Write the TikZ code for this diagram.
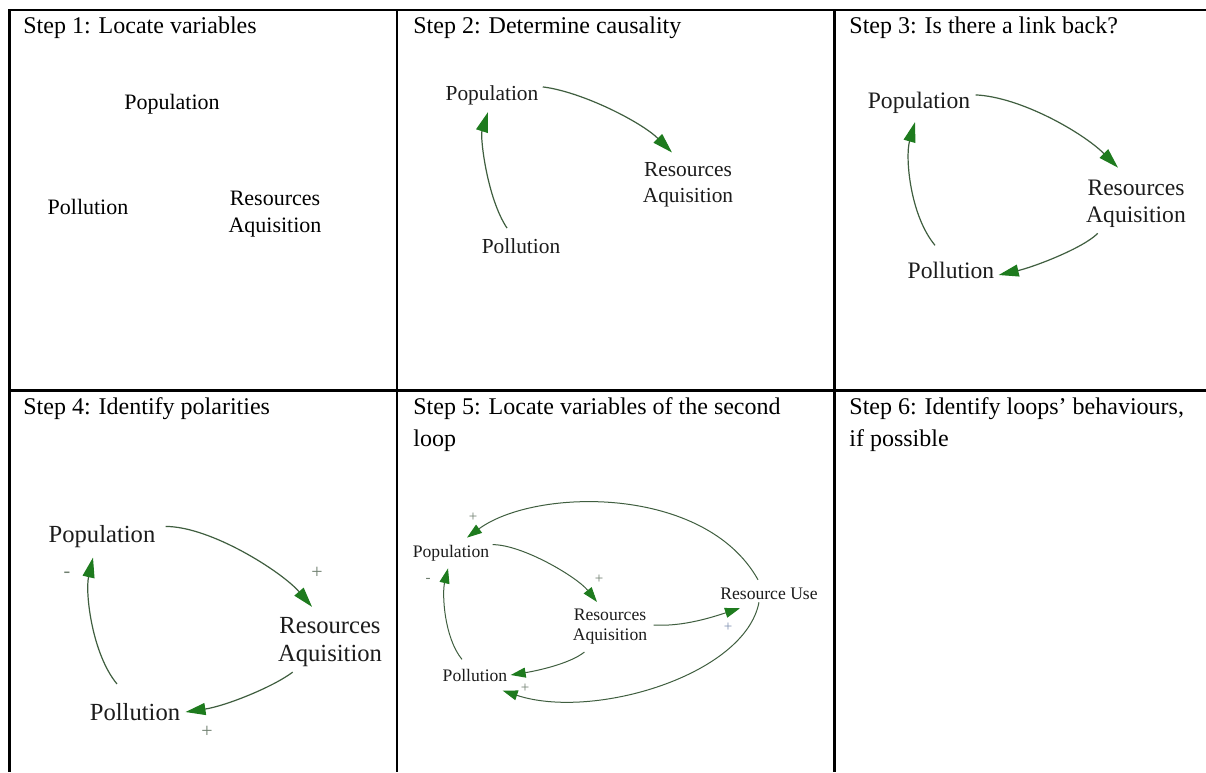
\documentclass[tikz,border=0pt]{standalone}
\usepackage{fontspec}
\setmainfont{Liberation Serif}
\usetikzlibrary{arrows.meta,calc}
\definecolor{linkline}{HTML}{3F5E3F}
\definecolor{linkhead}{HTML}{1E7B1E}
\definecolor{vartext}{HTML}{1C1C1C}
\definecolor{signgray}{HTML}{6F7F6F}
\definecolor{signblue}{HTML}{7F8FB0}
\begin{document}
\begin{tikzpicture}[x=0.5pt,y=-0.5pt,
  grid/.style={line width=1.3pt,black},
  header/.style={anchor=base west,inner sep=0pt,font=\fontsize{12}{16}\selectfont},
  var/.style={inner sep=0pt,align=center,text=vartext},
  fa/.style={font=\fontsize{11}{13.3}\selectfont},
  fb/.style={font=\fontsize{10.7}{12.8}\selectfont},
  fc/.style={font=\fontsize{11.8}{13.7}\selectfont},
  fd/.style={font=\fontsize{12.3}{14.1}\selectfont},
  fe/.style={font=\fontsize{8.8}{10}\selectfont},
  link/.style={draw=linkline,line width=0.6pt,-{Triangle[length=10pt,width=6pt,color=linkhead]}},
  smalllink/.style={draw=linkline,line width=0.5pt,-{Triangle[length=7.5pt,width=5pt,color=linkhead]}},
  sign/.style={inner sep=0pt,text=signgray,font=\fontsize{10}{10}\selectfont},
  smallsign/.style={sign,font=\fontsize{7.5}{8}\selectfont},
]
% page and table frame
\fill[white] (0,0) rectangle (1206,772);
\useasboundingbox (0,0) rectangle (1206,772);
\coordinate (tl) at (9.5,10);
\coordinate (tr) at (1206,10);
\coordinate (bl) at (9.5,772);
\coordinate (ml) at (9.5,390.5);
\coordinate (mr) at (1206,390.5);
\coordinate (c1t) at (397,10);
\coordinate (c1b) at (397,772);
\coordinate (c2t) at (834.5,10);
\coordinate (c2b) at (834.5,772);
\draw[grid] (tr) -- (tl) -- (bl);
\draw[grid] (ml) -- (mr);
\draw[grid] (c1t) -- (c1b);
\draw[grid] (c2t) -- (c2b);

% cell headings
\node[header] (h1) at (23,33) {Step 1: Locate variables};
\node[header] (h2) at (413,33) {Step 2: Determine causality};
\node[header] (h3) at (849,33) {Step 3: Is there a link back?};
\node[header] (h4) at (23,414) {Step 4: Identify polarities};
\node[header] (h5) at (413,414) {\parbox[t]{205pt}{Step 5: Locate variables of the second\\loop}};
\node[header] (h6) at (849,414) {\parbox[t]{178pt}{Step 6: Identify loops’ behaviours,\\if possible}};

% Step 1: variables only
\node[var,fa,text=black] (pop1) at (172,104) {Population};
\node[var,fa,text=black] (pol1) at (88,207) {Pollution};
\node[var,fa,text=black] (res1) at (275,214) {Resources\\Aquisition};

% Step 2: causal links
\node[var,fb] (pop2) at (492,95) {Population};
\node[var,fb] (res2) at (688,185) {Resources\\Aquisition};
\node[var,fb] (pol2) at (521,246) {Pollution};
\draw[link] ([shift={(4,2)}]pop2.north east) .. controls +(40,5) and +(-30,-30) .. ([shift={(-16,-10)}]res2.north);
\draw[link] ([shift={(-14,-10)}]pol2.north) .. controls +(-20,-30) and +(-8,25) .. ([shift={(-4,7)}]pop2.south);

% Step 3: closing the loop
\node[var,fc] (pop3) at (919,103) {Population};
\node[var,fc] (res3) at (1136,204) {Resources\\Aquisition};
\node[var,fc] (pol3) at (951,270) {Pollution};
\draw[link] ([shift={(5,3)}]pop3.north east) .. controls +(45,2) and +(-35,-35) .. ([shift={(-18,-12)}]res3.north);
\draw[link] ([shift={(12,5)}]res3.south west) .. controls +(-15,15) and +(35,-8) .. ([shift={(4,5)}]pol3.east);
\draw[link] ([shift={(-16,-16)}]pol3.north) .. controls +(-25,-30) and +(-10,35) .. ([shift={(-4,8)}]pop3.south);

% Step 4: polarities
\node[var,fd] (pop4) at (102,537) {Population};
\node[var,fd] (res4) at (330,642) {Resources\\Aquisition};
\node[var,fd] (pol4) at (135,712) {Pollution};
\draw[link] ([shift={(10,1)}]pop4.north east) .. controls +(45,0) and +(-30,-35) .. ([shift={(-18,-10)}]res4.north);
\draw[link] ([shift={(15,5)}]res4.south west) .. controls +(-20,15) and +(40,-6) .. ([shift={(5,0)}]pol4.east);
\draw[link] ([shift={(-18,-19)}]pol4.north) .. controls +(-25,-30) and +(-8,35) .. ([shift={(-9,9)}]pop4.south);
\node[sign] (s4a) at (317,573) {+};
\node[sign] (s4b) at (207,732) {+};
\node[sign] (s4c) at (67,575) {-};

% Step 5: second loop through resource use
\node[var,fe] (pop5) at (451,553) {Population};
\node[var,fe] (res5) at (610,627) {Resources\\Aquisition};
\node[var,fe] (pol5) at (475,675) {Pollution};
\node[var,fe] (use5) at (769,594) {Resource Use};
\draw[smalllink] ([shift={(3,0)}]pop5.north east) .. controls +(30,0) and +(-20,-25) .. ([shift={(-13,-7)}]res5.north);
\draw[smalllink] ([shift={(6,-2)}]res5.east) .. controls +(30,2) and +(-25,8) .. ([shift={(20,8)}]use5.south west);
\draw[smalllink] ([shift={(12,7)}]res5.south west) .. controls +(-15,12) and +(25,-4) .. ([shift={(3,0)}]pol5.east);
\draw[smalllink] ([shift={(-13,-9)}]pol5.north) .. controls +(-18,-22) and +(-6,25) .. ([shift={(-3,7)}]pop5.south);
\draw[smalllink] ([shift={(-11,-8)}]use5.north) .. controls +(-53,-95) and +(68,-50) .. ([shift={(16,-7)}]pop5.north);
\draw[smalllink] ([shift={(-10,2)}]use5.south) .. controls +(-14,73) and +(90,30) .. ([shift={(-5,9)}]pol5.south east);
\node[smallsign] (s5a) at (473,517) {+};
\node[smallsign] (s5b) at (428,580) {-};
\node[smallsign] (s5c) at (599,579) {+};
\node[smallsign,text=signblue] (s5d) at (728,627) {+};
\node[smallsign] (s5e) at (525,688) {+};
\end{tikzpicture}
\end{document}
